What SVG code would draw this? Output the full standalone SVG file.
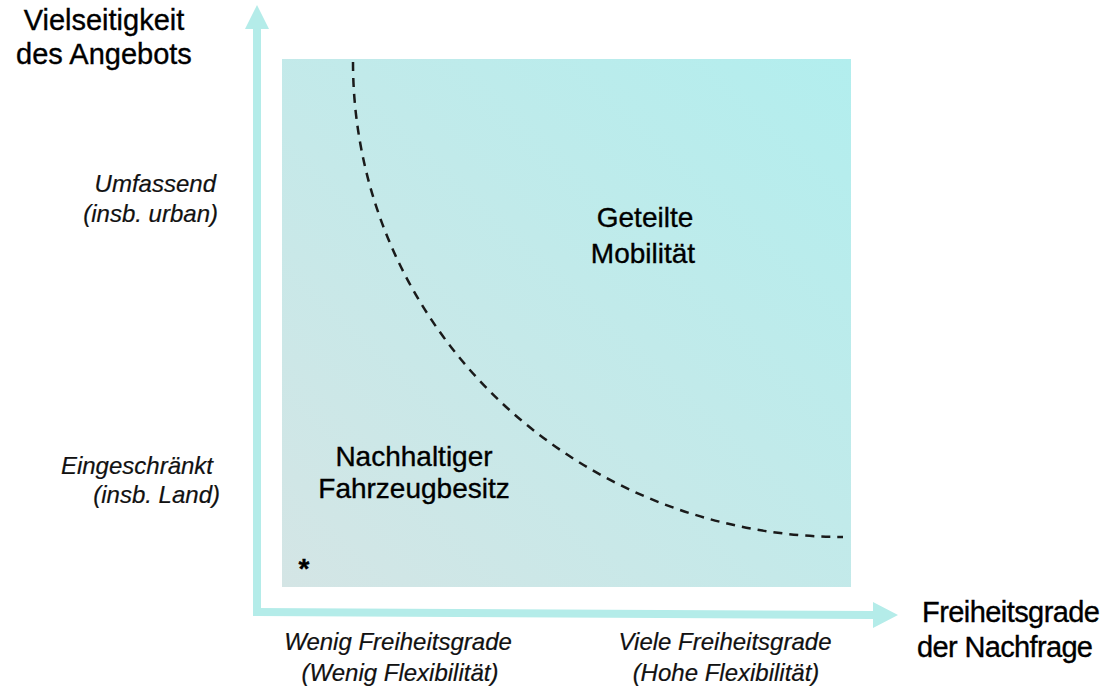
<svg xmlns="http://www.w3.org/2000/svg" width="1111" height="686" viewBox="0 0 1111 686">
<defs>
<linearGradient id="bg" x1="0" y1="1" x2="1" y2="0">
<stop offset="0" stop-color="#d4e5e5"/>
<stop offset="1" stop-color="#b2eeee"/>
</linearGradient>
<style>
.ax{fill:#b4ece9}
.t{font-family:"Liberation Sans",Arial,sans-serif;fill:#000;stroke:#000;stroke-width:0.35px}
.h{font-size:29px}
.i{font-size:24px;font-style:italic;fill:#111;stroke:#111;stroke-width:0.2px}
.r{font-size:28px}
</style>
</defs>
<rect width="1111" height="686" fill="#fff"/>
<g id="plane"><rect x="282" y="59" width="569" height="528" fill="url(#bg)"/></g>
<g id="connectors">
<path id="y-axis" class="ax" d="M253,616 L253,29 L245,29 L257,5 L269,29 L261,29 L261,616 Z"/>
<path id="x-axis" class="ax" d="M253,608 L873,611 L873,602 L898,615 L873,628 L873,619 L253,616 Z"/>
<path id="boundary" d="M353,62 A490,475 0 0 0 843,537" fill="none" stroke="#1a1a1a" stroke-width="2.5" stroke-dasharray="9,7"/>
</g>
<g id="y-title" class="t h" text-anchor="middle">
<text x="104" y="30">Vielseitigkeit</text>
<text x="104" y="64">des Angebots</text>
</g>
<g id="x-title" class="t h">
<text x="922" y="622" textLength="178">Freiheitsgrade</text>
<text x="917" y="657" textLength="176">der Nachfrage</text>
</g>
<g id="y-high" class="t i" text-anchor="end">
<text x="216" y="192">Umfassend</text>
<text x="218" y="222">(insb. urban)</text>
</g>
<g id="y-low" class="t i" text-anchor="end">
<text x="213" y="474">Eingeschränkt</text>
<text x="220" y="503">(insb. Land)</text>
</g>
<g id="x-low" class="t i" text-anchor="middle">
<text x="398" y="650">Wenig Freiheitsgrade</text>
<text x="400" y="681">(Wenig Flexibilität)</text>
</g>
<g id="x-high" class="t i" text-anchor="middle">
<text x="725" y="650">Viele Freiheitsgrade</text>
<text x="726" y="681">(Hohe Flexibilität)</text>
</g>
<g id="shared" class="t r" text-anchor="middle">
<text x="645" y="227">Geteilte</text>
<text x="643" y="263">Mobilität</text>
</g>
<g id="owned" class="t r" text-anchor="middle">
<text x="414" y="466">Nachhaltiger</text>
<text x="414" y="498">Fahrzeugbesitz</text>
</g>
<g id="note" class="t"><text x="304" y="578" font-size="28" font-weight="bold" text-anchor="middle">*</text></g>
</svg>
